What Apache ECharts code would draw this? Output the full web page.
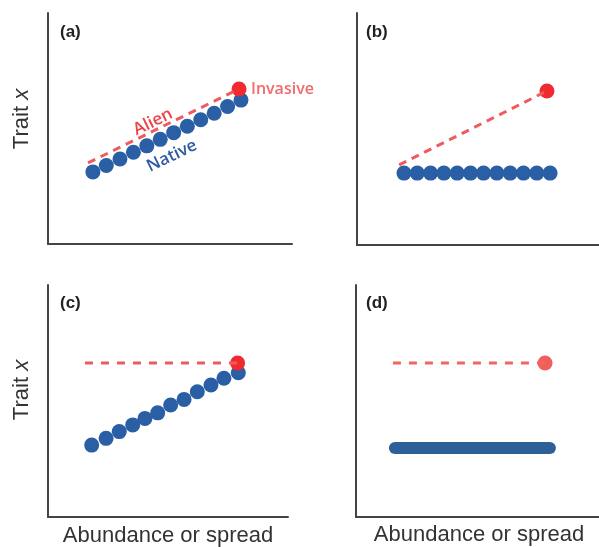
<!DOCTYPE html>
<html>
<head>
<meta charset="utf-8">
<script src="https://cdn.jsdelivr.net/npm/echarts@6/dist/echarts.min.js"></script>
<style>html,body{margin:0;padding:0;background:#fff}#c{width:599px;height:547px}</style>
</head>
<body>
<div id="c"></div>
<script>
// ---- data (units: 0-100 on both axes of each panel) ----
const panelLabels = ['(a)', '(b)', '(c)', '(d)'];
const yTitle = 'Trait x';
const xTitle = 'Abundance or spread';

// panel (a)
const nativeA_x = [18.4, 23.9, 29.5, 35.0, 40.5, 46.0, 51.5, 57.1, 62.6, 68.1, 73.6, 79.1];
const nativeA_y = [31.2, 34.0, 36.8, 39.7, 42.5, 45.3, 48.2, 51.0, 53.8, 56.6, 59.5, 62.3];
const alienA = [[16.4, 35.1], [78.3, 67.1]];
const invasiveA = [78.3, 67.1];

// panel (b)
const nativeB_x = [19.4, 24.9, 30.4, 35.9, 41.4, 46.9, 52.3, 57.8, 63.3, 68.8, 74.3, 79.8];
const nativeB_y = [31.0, 31.0, 31.0, 31.0, 31.0, 31.0, 31.0, 31.0, 31.0, 31.0, 31.0, 31.0];
const alienB = [[17.4, 34.5], [78.5, 66.4]];
const invasiveB = [78.5, 66.4];

// panel (c)
const nativeC_x = [18.2, 24.2, 29.7, 35.3, 40.4, 45.7, 51.1, 56.7, 62.2, 67.9, 73.3, 79.3];
const nativeC_y = [31.0, 33.9, 36.8, 39.7, 42.5, 44.9, 48.3, 50.7, 54.0, 56.9, 59.8, 62.2];
const alienC = [[15.4, 66.4], [79.0, 66.4]];
const invasiveC = [79.0, 66.4];

// panel (d)
const nativeD = [[16.0, 29.7], [79.8, 29.7]];
const alienD = [[15.2, 66.4], [77.8, 66.4]];
const invasiveD = [77.8, 66.4];

// ---- layout ----
const grids = [
  {left: 48, top: 13, width: 244, height: 231},
  {left: 357, top: 13, width: 242, height: 232},
  {left: 48, top: 285, width: 240, height: 232},
  {left: 356, top: 285, width: 243, height: 232}
];
const BLUE = '#2a5ea5';
const RED = '#ef2b30';
const DASH = '#f05a5e';

function zip(xs, ys) { return xs.map((x, i) => [x, ys[i]]); }

const xAxes = grids.map((g, i) => ({
  type: 'value', gridIndex: i, min: 0, max: 100,
  axisLine: {show: true, onZero: false, lineStyle: {color: '#444', width: 2}},
  axisTick: {show: false}, axisLabel: {show: false}, splitLine: {show: false}
}));
const yAxes = grids.map((g, i) => ({
  type: 'value', gridIndex: i, min: 0, max: 100,
  axisLine: {show: true, onZero: false, lineStyle: {color: '#444', width: 2}},
  axisTick: {show: false}, axisLabel: {show: false}, splitLine: {show: false}
}));

function dots(i, data, color, size) {
  return {type: 'scatter', xAxisIndex: i, yAxisIndex: i, data: data, symbolSize: size,
    itemStyle: {color: color, opacity: 1}, silent: true, z: 2};
}
function dashed(i, data, color, dash) {
  return {type: 'line', xAxisIndex: i, yAxisIndex: i, data: data, symbol: 'none',
    lineStyle: {color: color, width: 3, type: dash}, silent: true, z: 3};
}

const series = [
  dots(0, zip(nativeA_x, nativeA_y), BLUE, 15),
  dashed(0, alienA, DASH, [8, 6]),
  dots(0, [invasiveA], RED, 15),

  dots(1, zip(nativeB_x, nativeB_y), BLUE, 15),
  dashed(1, alienB, DASH, [8, 6]),
  dots(1, [invasiveB], RED, 15),

  dots(2, zip(nativeC_x, nativeC_y), BLUE, 15),
  dashed(2, alienC, DASH, [8, 8]),
  dots(2, [invasiveC], RED, 15),

  {type: 'line', xAxisIndex: 3, yAxisIndex: 3, data: nativeD, symbol: 'none',
    lineStyle: {color: '#2f5f98', width: 12, cap: 'round'}, silent: true, z: 2},
  dashed(3, alienD, '#f2645f', [8, 8]),
  dots(3, [invasiveD], '#f0605a', 15)
];

const panelPos = [[60, 32], [366, 32], [60, 303], [366, 303]];
const graphic = [];
panelLabels.forEach((t, i) => {
  graphic.push({type: 'text', x: panelPos[i][0], y: panelPos[i][1],
    style: {text: t, font: 'bold 17px "Liberation Sans", Arial, sans-serif', fill: '#222',
      verticalAlign: 'middle', align: 'left'}});
});
[[22, 119], [22, 390]].forEach(p => {
  graphic.push({type: 'text', x: p[0], y: p[1], rotation: Math.PI / 2,
    style: {text: 'Trait {i|x}', font: '22px "Liberation Sans", Arial, sans-serif', fill: '#333',
      align: 'center', verticalAlign: 'middle',
      rich: {i: {fontStyle: 'italic', fontSize: 22, fontFamily: '"Liberation Sans", Arial, sans-serif', fill: '#333'}}}});
});
[[168, 536], [479, 535]].forEach(p => {
  graphic.push({type: 'text', x: p[0], y: p[1],
    style: {text: xTitle, font: '22px "Liberation Sans", Arial, sans-serif', fill: '#333',
      align: 'center', verticalAlign: 'middle'}});
});
// annotations in panel (a)
graphic.push({type: 'text', x: 153, y: 122, rotation: 26 * Math.PI / 180,
  style: {text: 'Alien', font: '600 17px "Open Sans", sans-serif', fill: '#ee4448', align: 'center', verticalAlign: 'middle'}});
graphic.push({type: 'text', x: 172, y: 156, rotation: 26 * Math.PI / 180,
  style: {text: 'Native', font: '600 17px "Open Sans", sans-serif', fill: '#2d5aa0', align: 'center', verticalAlign: 'middle'}});
graphic.push({type: 'text', x: 251, y: 89,
  style: {text: 'Invasive', font: '600 16px "Open Sans", sans-serif', fill: '#f26a6a', align: 'left', verticalAlign: 'middle'}});

const chart = echarts.init(document.getElementById('c'), null, {renderer: 'canvas'});
chart.setOption({
  animation: false,
  backgroundColor: '#fff',
  grid: grids.map(g => Object.assign({containLabel: false}, g)),
  xAxis: xAxes,
  yAxis: yAxes,
  series: series,
  graphic: graphic
});
</script>
</body>
</html>
